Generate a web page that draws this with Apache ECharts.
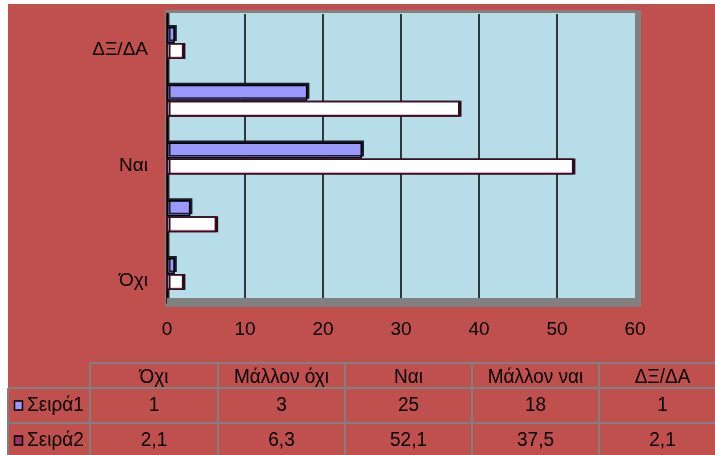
<!DOCTYPE html>
<html>
<head>
<meta charset="utf-8">
<script src="https://cdn.jsdelivr.net/npm/echarts@6/dist/echarts.min.js"></script>
<style>
  html, body { margin: 0; padding: 0; background: #ffffff; }
  #chart { width: 715px; height: 455px; }
</style>
</head>
<body>
<div id="chart"></div>
<script>
// Survey answers per category, two series
const categories = ['Όχι', 'Μάλλον όχι', 'Ναι', 'Μάλλον ναι', 'ΔΞ/ΔΑ'];
const seriesNames = ['Σειρά1', 'Σειρά2'];
const series1 = [1, 3, 25, 18, 1];
const series2 = [2.1, 6.3, 52.1, 37.5, 2.1];
const xTicks = [0, 10, 20, 30, 40, 50, 60];

const FONT = '"Liberation Sans", Arial, sans-serif';
const FS = 19;
const BG = '#C0504D';
const WALL = '#B7DEE8';
const FRAME = '#808080';
const S1 = '#9999FF';
const S2_KEY = '#993366';

const fmt = v => String(v).replace('.', ',');

// Plot frame geometry (pixels)
const G = { left: 167, top: 14, width: 468, height: 289 };

// Data table below the plot
const colX = [8, 90, 218, 345, 472, 599, 726];
const rowY = [363, 388, 423, 458];

function tableGraphics() {
  const els = [];
  const line = (x1, y1, x2, y2) => els.push({
    type: 'line', z: 5,
    shape: { x1, y1, x2, y2 },
    style: { stroke: FRAME, lineWidth: 2 }
  });
  const txt = (text, x, y, align) => els.push({
    type: 'text', z: 6, x, y, scaleY: 1.1,
    style: { text, fill: '#000', font: FS + 'px ' + FONT, align: align || 'center', verticalAlign: 'middle' }
  });
  // horizontal rules
  line(colX[1], rowY[0], 715, rowY[0]);
  line(colX[0], rowY[1], 715, rowY[1]);
  line(colX[0], rowY[2], 715, rowY[2]);
  // vertical rules
  line(colX[0], rowY[1], colX[0], 455);
  for (let i = 1; i < colX.length - 1; i++) line(colX[i], rowY[0], colX[i], 455);

  // header: categories
  categories.forEach((c, i) => txt(c, (colX[i + 1] + colX[i + 2]) / 2, 377));
  // rows: legend key, series name, values
  const rows = [series1, series2];
  const keys = [S1, S2_KEY];
  rows.forEach((vals, r) => {
    const yc = (rowY[r + 1] + rowY[r + 2]) / 2;
    els.push({
      type: 'rect', z: 6,
      shape: { x: 14.5, y: yc - 4.5, width: 8, height: 9 },
      style: { fill: keys[r], stroke: '#000', lineWidth: 1.5 }
    });
    txt(seriesNames[r], 27, yc, 'left');
    vals.forEach((v, i) => txt(fmt(v), (colX[i + 1] + colX[i + 2]) / 2, yc));
  });
  return els;
}

const chart = echarts.init(document.getElementById('chart'), null, { renderer: 'canvas' });

const option = {
  animation: false,
  backgroundColor: '#ffffff',
  textStyle: { fontFamily: FONT },
  grid: { left: G.left, top: G.top, width: G.width, height: G.height, containLabel: false },
  graphic: [
    { type: 'rect', z: -10, shape: { x: 8, y: 4, width: 707, height: 451 }, style: { fill: BG } },
    // walls of the plot box
    { type: 'rect', z: -5, shape: { x: 165, y: 10, width: 476, height: 297 }, style: { fill: FRAME } },
    { type: 'rect', z: -4, shape: { x: 170, y: 13, width: 465, height: 285 }, style: { fill: WALL } },
    // floor drawn over the grid lines
    { type: 'rect', z: 1, shape: { x: 167, y: 298, width: 474, height: 8 }, style: { fill: FRAME } }
  ].concat(tableGraphics()),
  xAxis: {
    type: 'value',
    min: xTicks[0],
    max: xTicks[xTicks.length - 1],
    interval: xTicks[1] - xTicks[0],
    axisLine: { show: false },
    axisTick: { show: false },
    splitLine: { show: true, showMinLine: false, showMaxLine: false, lineStyle: { color: '#000', width: 1.5 } },
    axisLabel: { color: '#000', fontSize: FS, fontFamily: FONT, margin: 17, formatter: v => fmt(v) }
  },
  yAxis: {
    type: 'category',
    data: categories,
    axisLine: { show: true, lineStyle: { color: '#000', width: 2.5 } },
    axisTick: { show: false },
    axisLabel: {
      color: '#000', fontSize: FS, fontFamily: FONT, margin: 19, interval: 1,
      verticalAlign: 'top', lineHeight: 14
    }
  },
  series: [
    {
      name: seriesNames[0],
      type: 'bar',
      data: series1,
      barWidth: 16,
      barGap: '0%',
      itemStyle: {
        color: S1, borderColor: '#000', borderWidth: 1.5,
        shadowColor: '#1b1b2a', shadowOffsetX: 2, shadowOffsetY: -2, shadowBlur: 0
      }
    },
    {
      name: seriesNames[1],
      type: 'bar',
      data: series2,
      barWidth: 16,
      barGap: '0%',
      itemStyle: {
        color: {
          type: 'linear', x: 0, y: 0, x2: 0, y2: 1,
          colorStops: [
            { offset: 0, color: '#c06090' },
            { offset: 0.12, color: '#ffffff' },
            { offset: 0.8, color: '#ffffff' },
            { offset: 0.9, color: '#d896b6' },
            { offset: 1, color: '#8a2a5c' }
          ]
        },
        borderColor: '#3a0d22', borderWidth: 1.5,
        shadowColor: '#2a0a18', shadowOffsetX: 2, shadowOffsetY: 0, shadowBlur: 0
      }
    }
  ]
};

chart.setOption(option);
</script>
</body>
</html>
